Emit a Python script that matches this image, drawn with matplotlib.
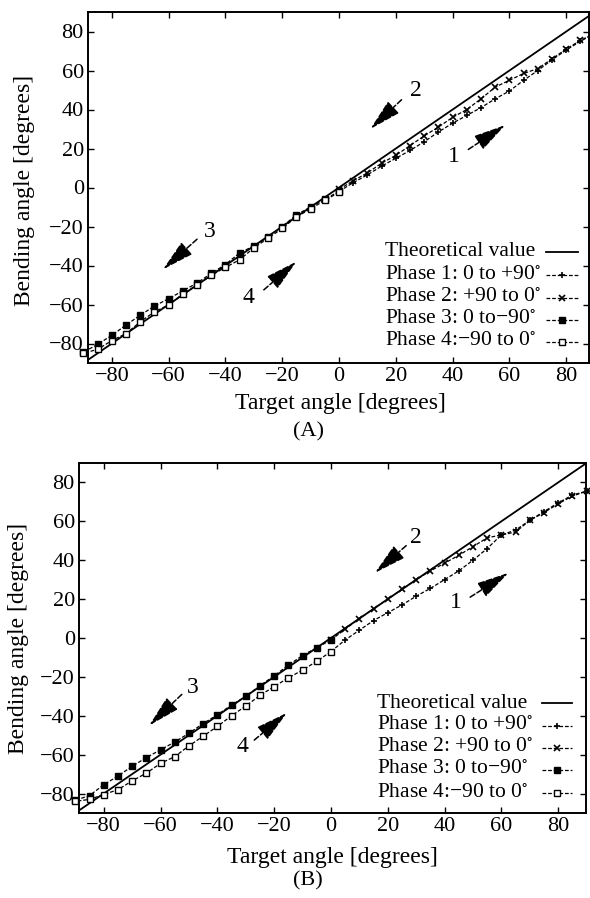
import numpy as np
import matplotlib
matplotlib.use('Agg')
import matplotlib.pyplot as plt
from matplotlib.lines import Line2D

plt.rcParams['font.family'] = ['Liberation Serif', 'DejaVu Serif']
plt.rcParams['mathtext.fontset'] = 'stix'

# Target angles (degrees)
x_pos = [0, 5, 10, 15, 20, 25, 30, 35, 40, 45, 50, 55, 60, 65, 70, 75, 80, 85, 90]
x_neg = [0, -5, -10, -15, -20, -25, -30, -35, -40, -45, -50, -55, -60, -65, -70, -75, -80, -85, -90]

# Panel (A) bending angles
a_phase1 = [-2, 2.5, 6.5, 11, 15, 19, 23.5, 28.5, 33, 37, 41, 45.5, 49.5, 55, 60, 65.5, 70.5, 75, 79]
a_phase2 = [-1, 3.5, 7.5, 12.5, 16.5, 21.5, 26.5, 31, 36, 40, 45.5, 51.5, 55, 58.5, 61, 66, 71, 75.5, 79]
a_phase3 = [-2, -6, -10, -14, -20, -25.5, -30, -33.5, -39.5, -44, -49, -53, -57, -60.8, -65.5, -70.5, -75.8, -80.4, -84.5]
a_phase4 = [-2.5, -6.5, -11, -15, -21, -26, -31, -37, -41, -45, -50, -54.5, -60.3, -63.7, -68.9, -74.9, -78.5, -83, -85]

# Panel (B) bending angles
b_phase1 = [-7, -1, 4, 9, 13, 17, 21.5, 25.5, 30, 34.5, 40, 46, 53, 55.5, 60.5, 65, 69.5, 73.5, 75.5]
b_phase2 = [-1, 4.5, 10, 15, 20, 25, 30, 34.5, 38.5, 42.5, 47, 51.5, 53, 54.5, 60.5, 64.5, 69, 73, 75.5]
b_phase3 = [-1, -5, -9, -14, -19.5, -24.5, -30, -34.5, -39.5, -44, -49, -53.5, -57.5, -61.5, -66, -71, -75.5, -81, -83.5]
b_phase4 = [-7, -12, -16.5, -20.5, -25, -29.5, -35, -40, -45.5, -50.5, -55.5, -61, -64.5, -69.5, -73.5, -78, -80.5, -83, -84]

labels = ['Theoretical value', 'Phase 1: 0 to +90$^{\\circ}$', 'Phase 2: +90 to 0$^{\\circ}$',
          'Phase 3: 0 to\u221290$^{\\circ}$', 'Phase 4:\u221290 to 0$^{\\circ}$']
ticks = [-80, -60, -40, -20, 0, 20, 40, 60, 80]
arrow_names = ['2', '1', '3', '4']

fig = plt.figure(figsize=(5.9, 8.98), dpi=100)
W, H = 590, 898
DASH = (0, (3, 1.5))
styles = [dict(ls='-', lw=1.3),
          dict(ls=DASH, lw=0.9, marker='+', ms=4.5, mew=1.2),
          dict(ls=DASH, lw=0.9, marker='x', ms=4, mew=1.2),
          dict(ls=DASH, lw=0.9, marker='s', ms=4),
          dict(ls=DASH, lw=0.9, marker='s', ms=4, mfc='white', mew=1)]


def key(text_x, hx0, hx1, rows):
    # legend: text left-aligned, line sample on the right
    for lab, st, yy in zip(labels, styles, rows):
        fy = 1 - yy / H
        fig.text(text_x / W, fy, lab, ha='left', va='center', fontsize=15.5)
        hx = [hx0 / W, (hx0 + hx1) / 2 / W, hx1 / W]
        fig.add_artist(Line2D(hx, [fy] * 3, transform=fig.transFigure, color='k',
                              markevery=[1], **st))


def panel(rect, xlim, p1, p2, p3, p4, arrows):
    l, t, r, b = rect
    ax = fig.add_axes([l / W, 1 - b / H, (r - l) / W, (b - t) / H])
    ax.plot([-90, 90], [-90, 90], color='k', **styles[0])
    ax.plot(x_pos, p1, color='k', clip_on=False, **styles[1])
    ax.plot(x_pos, p2, color='k', clip_on=False, **styles[2])
    ax.plot(x_neg, p3, color='k', clip_on=False, **styles[3])
    ax.plot(x_neg, p4, color='k', clip_on=False, **styles[4])
    ax.set_xlim(*xlim)
    ax.set_ylim(-90, 90)
    ax.set_xticks(ticks)
    ax.set_yticks(ticks)
    ax.tick_params(direction='in', top=True, right=True, length=4, width=1, labelsize=16, pad=3)
    for s in ax.spines.values():
        s.set_linewidth(1.4)
    for name, (txt, tail, tip) in zip(arrow_names, arrows):
        ax.annotate('', xy=tip, xytext=tail,
                    arrowprops=dict(arrowstyle='-|>,head_length=2.0,head_width=0.5', mutation_scale=10,
                                    lw=1.1, ls='--', color='k', fc='k', shrinkA=0, shrinkB=0))
        ax.text(txt[0], txt[1], name, ha='center', va='center', fontsize=17)
    return ax


arrows_a = [((27, 50), (22, 45), (11, 30)),
            ((40.5, 16), (45.5, 19.5), (58.5, 32)),
            ((-45.5, -22.5), (-50, -26.5), (-62, -42)),
            ((-32, -56.5), (-26.5, -52.5), (-15, -38))]
arrows_b = [((30, 51.5), (26.5, 47.5), (15.5, 33.5)),
            ((44, 18.5), (49, 21), (62.5, 33.5)),
            ((-48.5, -25.5), (-52.5, -29), (-64, -45)),
            ((-31, -56), (-27, -52.5), (-15.5, -38.5))]

panel((88, 12, 589, 363), (-88.4, 88.0), a_phase1, a_phase2, a_phase3, a_phase4, arrows_a)
panel((79, 463, 586, 813), (-88.7, 89.8), b_phase1, b_phase2, b_phase3, b_phase4, arrows_b)

key(385, 546, 578, [252, 275, 298, 320, 342])
key(377, 542, 572, [703, 726, 748, 770, 793])

fig.text(25 / W, 1 - 190 / H, 'Bending angle [degrees]', rotation=90, ha='center', va='center', fontsize=17)
fig.text(340 / W, 1 - 404 / H, 'Target angle [degrees]', ha='center', va='center', fontsize=17)
fig.text(309 / W, 1 - 432 / H, '(A)', ha='center', va='center', fontsize=16)

fig.text(19 / W, 1 - 638 / H, 'Bending angle [degrees]', rotation=90, ha='center', va='center', fontsize=17)
fig.text(332 / W, 1 - 857 / H, 'Target angle [degrees]', ha='center', va='center', fontsize=17)
fig.text(308 / W, 1 - 881 / H, '(B)', ha='center', va='center', fontsize=16)

fig.savefig('out.png', dpi=100)
